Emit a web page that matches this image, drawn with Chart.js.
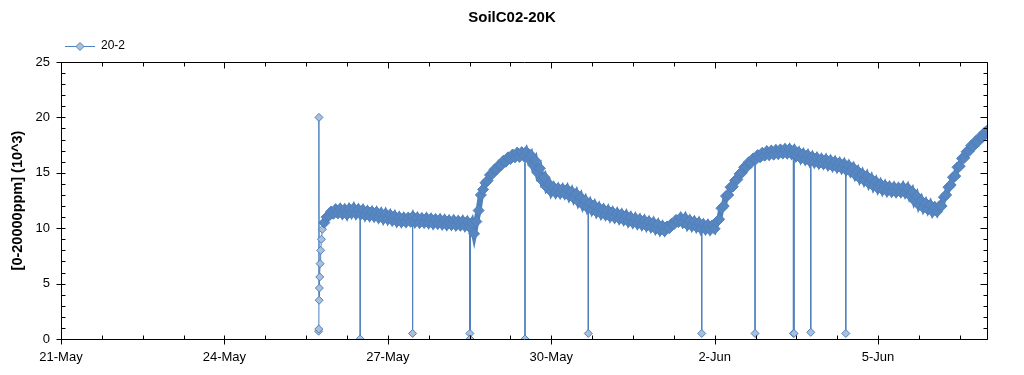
<!DOCTYPE html>
<html>
<head>
<meta charset="utf-8">
<script src="https://cdn.jsdelivr.net/npm/chart.js@4.4.1/dist/chart.umd.min.js"></script>
<style>
  html, body { margin: 0; padding: 0; background: #fff; }
</style>
</head>
<body>
<canvas id="chart" width="1024" height="375"></canvas>
<script>
// series name and data, x counted in days from 21-May 00:00
const seriesName = '20-2';

// sensor coming up on 25-May, the odd 20 reading included
const riseTimes = ['05-25 17:30', '05-25 17:35', '05-25 17:40', '05-25 17:45', '05-25 17:50', '05-25 18:00',
                   '05-25 18:10', '05-25 18:25', '05-25 18:45', '05-25 19:10', '05-25 19:35'];
const riseValues = [0.7, 0.9, 20.0, 3.5, 4.6, 5.6, 6.8, 8.0, 9.0, 9.9, 10.5];

// after that the trace is a noisy band: low edge read every 2 hours from 25-May 20:00,
// high edge one hour later, up to 7-Jun
const bandStart = '05-25 20:00';
const bandLow = [
  10.5, 11.1,
  11.3, 11.35, 11.3, 11.25, 11.35, 11.3, 11.25, 11.15, 11.1, 11.05, 10.95, 10.85,   // 26-May
  10.8, 10.7, 10.6, 10.55, 10.55, 10.6, 10.55, 10.5, 10.5, 10.45, 10.4, 10.4,       // 27-May
  10.35, 10.3, 10.3, 10.25, 10.25, 10.2, 10.1, 9.5, 11.6, 13.5, 14.3, 14.9,        // 28-May
  15.3, 15.7, 16.0, 16.25, 16.4, 16.45, 16.5, 16.3, 15.7, 15.0, 14.3, 13.7,        // 29-May
  13.3, 13.2, 13.15, 13.1, 12.9, 12.7, 12.4, 12.1, 11.85, 11.65, 11.45, 11.3,      // 30-May
  11.2, 11.05, 10.95, 10.85, 10.75, 10.6, 10.5, 10.4, 10.3, 10.2, 10.1, 9.95,      // 31-May
  9.8, 9.75, 10.0, 10.35, 10.55, 10.5, 10.3, 10.2, 10.1, 9.95, 9.9, 9.85,          // 1-Jun
  9.95, 10.8, 12.0, 13.0, 13.75, 14.4, 15.0, 15.5, 15.9, 16.2, 16.4, 16.55,        // 2-Jun
  16.6, 16.65, 16.7, 16.75, 16.75, 16.7, 16.5, 16.3, 16.2, 16.05, 15.95, 15.85,    // 3-Jun
  15.8, 15.7, 15.6, 15.5, 15.4, 15.25, 15.1, 14.8, 14.5, 14.3, 14.05, 13.8,        // 4-Jun
  13.6, 13.45, 13.35, 13.3, 13.25, 13.25, 13.2, 12.95, 12.5, 12.1, 11.85, 11.7,    // 5-Jun
  11.5, 11.5, 12.0, 13.0, 13.9, 14.7, 15.6, 16.35, 16.95, 17.4, 17.8, 18.2,        // 6-Jun
  18.8
];
const bandHigh = [
  11.0, 11.5,
  11.7, 11.75, 11.7, 11.75, 11.8, 11.7, 11.65, 11.55, 11.5, 11.45, 11.35, 11.3,     // 26-May
  11.2, 11.1, 11.0, 10.95, 10.95, 11.05, 10.95, 10.9, 10.9, 10.85, 10.8, 10.8,      // 27-May
  10.75, 10.7, 10.7, 10.65, 10.65, 10.6, 10.5, 10.6, 13.0, 14.1, 14.8, 15.3,       // 28-May
  15.7, 16.1, 16.4, 16.65, 16.8, 16.85, 16.9, 16.6, 16.1, 15.4, 14.6, 14.0,        // 29-May
  13.7, 13.6, 13.55, 13.5, 13.3, 13.1, 12.8, 12.5, 12.25, 12.05, 11.85, 11.7,      // 30-May
  11.6, 11.45, 11.35, 11.25, 11.15, 11.0, 10.9, 10.8, 10.7, 10.6, 10.5, 10.35,     // 31-May
  10.2, 10.15, 10.4, 10.75, 10.95, 10.9, 10.7, 10.6, 10.5, 10.35, 10.3, 10.25,     // 1-Jun
  10.6, 11.8, 12.9, 13.7, 14.3, 14.9, 15.5, 15.95, 16.3, 16.6, 16.8, 16.95,        // 2-Jun
  17.0, 17.05, 17.1, 17.15, 17.15, 17.05, 16.85, 16.7, 16.6, 16.45, 16.35, 16.25,  // 3-Jun
  16.2, 16.1, 16.0, 15.9, 15.8, 15.65, 15.45, 15.15, 14.9, 14.7, 14.45, 14.2,      // 4-Jun
  14.0, 13.85, 13.75, 13.7, 13.65, 13.7, 13.6, 13.3, 12.9, 12.5, 12.25, 12.1,      // 5-Jun
  11.9, 12.0, 12.8, 13.7, 14.6, 15.5, 16.3, 16.9, 17.45, 17.85, 18.25, 18.65,      // 6-Jun
  19.2
];

// single bad readings that fall to the floor and come straight back
const dropTimes = ['05-26 11:49', '05-27 10:55', '05-28 12:10', '05-28 12:12', '05-29 12:26', '05-30 16:19',
                   '06-01 18:19', '06-02 17:48', '06-03 10:42', '06-03 10:58', '06-03 18:21', '06-04 09:47'];
const dropFrom = [11.45, 10.8, 10.2, 10.2, 16.7, 12.0, 10.15, 16.4, 16.85, 16.8, 16.25, 15.45];
const dropTo = [0, 0.5, 0.5, 0, 0, 0.5, 0.5, 0.5, 0.5, 0.5, 0.6, 0.5];

const xMin = 0, xMax = 17;
const yMin = 0, yMax = 25;

const lineBlue = '#4f81bd';
const markFill = '#aabfd9';
// the band is so dense in the original that the marker outlines cover nearly all the fill
const bandFill = '#5786c0';
const fontFamily = '"Liberation Sans", Arial, sans-serif';

function dayOf(s) {
  const [md, hm] = s.split(' ');
  const [m, d] = md.split('-').map(Number);
  const [h, mi] = (hm || '00:00').split(':').map(Number);
  const day = m === 5 ? d - 21 : d + 10;
  return day + (h + mi / 60) / 24;
}

function dateLabel(v) {
  const d = Math.round(v);
  return d < 11 ? (21 + d) + '-May' : (d - 10) + '-Jun';
}

const mainPoints = riseTimes.map((t, i) => ({ x: dayOf(t), y: riseValues[i] }));
const b0 = dayOf(bandStart);
bandLow.forEach((v, i) => {
  mainPoints.push({ x: b0 + i * 2 / 24, y: v });
  mainPoints.push({ x: b0 + (i * 2 + 1) / 24, y: bandHigh[i] });
});
const inBand = i => i >= riseTimes.length;

const dropPoints = [];
const dropRadius = [];
dropTimes.forEach((t, i) => {
  const x = dayOf(t);
  dropPoints.push({ x, y: dropFrom[i] }, { x, y: dropTo[i] }, { x, y: null });
  dropRadius.push(0, 4, 0);
});

// legend glyph: short line with a diamond on it
const legendMark = document.createElement('canvas');
legendMark.width = 30;
legendMark.height = 10;
(function () {
  const c = legendMark.getContext('2d');
  c.strokeStyle = lineBlue;
  c.lineWidth = 1;
  c.beginPath(); c.moveTo(0, 5.5); c.lineTo(30, 5.5); c.stroke();
  c.fillStyle = markFill;
  c.beginPath(); c.moveTo(15, 1.5); c.lineTo(19, 5.5); c.lineTo(15, 9.5); c.lineTo(11, 5.5); c.closePath();
  c.fill(); c.stroke();
})();

// box round the plot, ticks on all four sides
const frameTicks = {
  id: 'frameTicks',
  afterLayout(chart) {
    chart.legend.left += 57;
  },
  afterDraw(chart) {
    const { ctx, chartArea: a, scales } = chart;
    const L = Math.round(a.left) + 0.5, R = Math.round(a.right) + 0.5;
    const T = Math.round(a.top) + 0.5, B = Math.round(a.bottom) + 0.5;
    ctx.save();
    ctx.strokeStyle = '#000';
    ctx.lineWidth = 1;
    ctx.beginPath();
    ctx.rect(L, T, R - L, B - T);
    scales.x.ticks.forEach(t => {
      const px = Math.round(scales.x.getPixelForValue(t.value)) + 0.5;
      const major = t.label !== '';
      ctx.moveTo(px, B + (major ? 5 : 0)); ctx.lineTo(px, B - 4);
      ctx.moveTo(px, T); ctx.lineTo(px, T + (major ? 6 : 4));
    });
    scales.y.ticks.forEach(t => {
      const py = Math.round(scales.y.getPixelForValue(t.value)) + 0.5;
      const major = t.label !== '';
      ctx.moveTo(L - (major ? 5 : 0), py); ctx.lineTo(L + 4, py);
      ctx.moveTo(R, py); ctx.lineTo(R - (major ? 7 : 4), py);
    });
    ctx.stroke();
    ctx.restore();
  }
};

const chart = new Chart(document.getElementById('chart'), {
  type: 'line',
  data: {
    datasets: [
      {
        label: seriesName,
        data: mainPoints,
        borderColor: lineBlue,
        borderWidth: 1,
        segment: { borderWidth: ctx => inBand(ctx.p1DataIndex) ? 6 : 1 },
        pointStyle: 'rectRot',
        pointRadius: ctx => inBand(ctx.dataIndex) ? 5.5 : 4,
        pointBackgroundColor: ctx => inBand(ctx.dataIndex) ? bandFill : markFill,
        pointBorderColor: lineBlue,
        pointBorderWidth: 1,
        tension: 0,
        clip: 0,
        order: 1
      },
      {
        label: 'drops',
        data: dropPoints,
        borderColor: lineBlue,
        borderWidth: 1,
        pointStyle: 'rectRot',
        pointRadius: dropRadius,
        pointBackgroundColor: markFill,
        pointBorderColor: lineBlue,
        pointBorderWidth: 1,
        spanGaps: false,
        clip: 0,
        order: 2
      }
    ]
  },
  options: {
    responsive: false,
    animation: false,
    devicePixelRatio: 1,
    layout: { padding: 0, autoPadding: false },
    plugins: {
      title: {
        display: true,
        text: 'SoilC02-20K',
        color: '#000',
        font: { family: fontFamily, size: 15, weight: 'bold' },
        padding: { top: 9, bottom: 5 }
      },
      legend: {
        position: 'top',
        align: 'start',
        labels: {
          usePointStyle: true,
          pointStyleWidth: 30,
          padding: 8,
          color: '#000',
          font: { family: fontFamily, size: 12 },
          generateLabels: () => [{ text: seriesName, pointStyle: legendMark, datasetIndex: 0, fontColor: '#000' }]
        }
      },
      tooltip: { enabled: false }
    },
    scales: {
      x: {
        type: 'linear',
        min: xMin,
        max: xMax,
        border: { display: false },
        grid: { display: false, drawTicks: false },
        afterBuildTicks: s => {
          s.ticks = s.ticks.filter(t => Math.abs(t.value / 0.75 - Math.round(t.value / 0.75)) < 1e-6);
        },
        afterFit: s => { s.height = 36; },
        ticks: {
          stepSize: 0.75,
          autoSkip: false,
          maxRotation: 0,
          padding: 11,
          color: '#000',
          font: { family: fontFamily, size: 13 },
          callback: v => Math.abs(v / 3 - Math.round(v / 3)) < 1e-6 ? dateLabel(v) : ''
        }
      },
      y: {
        min: yMin,
        max: yMax,
        border: { display: false },
        grid: { display: false, drawTicks: false },
        afterFit: s => { s.width = 61; },
        title: {
          display: true,
          text: '[0-20000ppm] (10^3)',
          color: '#000',
          font: { family: fontFamily, size: 14.5, weight: 'bold' },
          padding: { top: 9, bottom: 0 }
        },
        ticks: {
          stepSize: 1,
          autoSkip: false,
          padding: 11,
          color: '#000',
          font: { family: fontFamily, size: 13 },
          callback: v => v % 5 === 0 ? String(v) : ''
        }
      },
      yRight: {
        position: 'right',
        min: yMin,
        max: yMax,
        border: { display: false },
        grid: { display: false, drawTicks: false },
        ticks: { display: false },
        afterFit: s => { s.width = 37; }
      }
    }
  },
  plugins: [frameTicks]
});
</script>
</body>
</html>
